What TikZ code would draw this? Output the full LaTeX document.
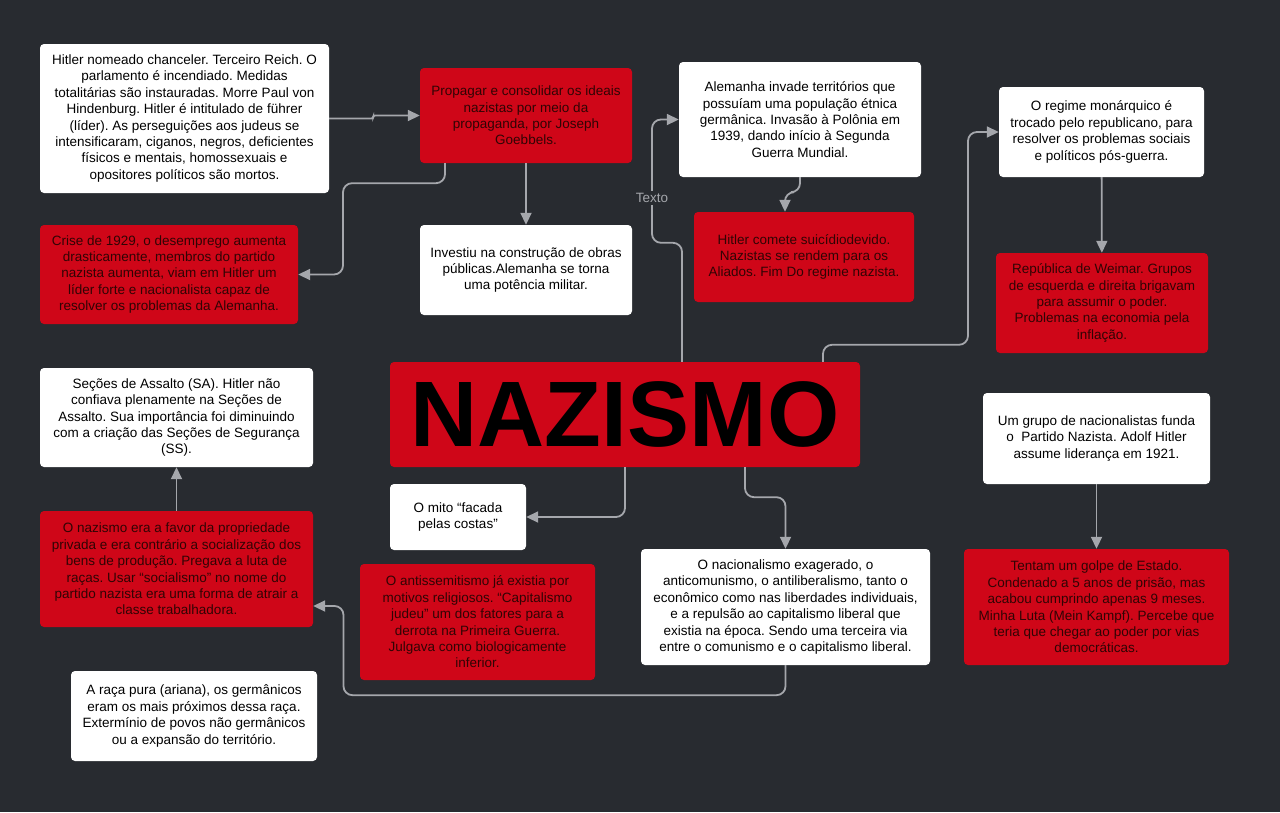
\documentclass[tikz,border=0pt]{standalone}
\usepackage{fontspec}
\setmainfont{Liberation Sans}
\usepackage{xcolor}
\usepackage{tikz}
\usetikzlibrary{arrows.meta,calc}
\definecolor{fundo}{RGB}{40,43,48}
\definecolor{vermelho}{RGB}{207,6,24}
\definecolor{tinta}{RGB}{48,4,4}
\definecolor{linha}{RGB}{165,167,172}
\frenchspacing

\tikzset{
  caixa/.style={rectangle,rounded corners=4pt,inner sep=0pt,align=center,
    font=\fontsize{13.5}{16.4}\selectfont},
  branca/.style={caixa,fill=white,text=black},
  vermelha/.style={caixa,fill=vermelho,text=tinta},
  seta/.style={draw=linha,line width=1.8pt,rounded corners=9pt,
    -{Triangle[length=12pt,width=11pt]}},
  rotulo/.style={fill=fundo,text=linha,inner sep=2pt,font=\fontsize{13.5}{15}\selectfont}
}

\begin{document}
\begin{tikzpicture}[x=1pt,y=-1pt]
    % une unite = un pixel de l'image : x vers la droite, y vers le bas
    \fill[fundo](0,0) rectangle (1280,812);
    \useasboundingbox (0,0) rectangle (1280,812);
    \node[branca,minimum width=289pt,minimum height=149pt] (hit) at (184.5,118.5)
      {Hitler nomeado chanceler. Terceiro Reich. O\\parlamento é incendiado. Medidas\\
       totalitárias são instauradas. Morre Paul von\\Hindenburg. Hitler é intitulado de führer\\
       (líder). As perseguições aos judeus se\\intensificaram, ciganos, negros, deficientes\\
       físicos e mentais, homossexuais e\\opositores políticos são mortos.};
    \node[vermelha,minimum width=212pt,minimum height=95pt] (prop) at (526,115.5)
      {Propagar e consolidar os ideais\\nazistas por meio da\\propaganda, por Joseph\\Goebbels.};
    \node[branca,minimum width=242pt,minimum height=115pt] (ale) at (800,119.5)
      {Alemanha invade territórios que\\possuíam uma população étnica\\germânica. Invasão à Polônia em\\
       1939, dando início à Segunda\\Guerra Mundial.};
    \node[branca,minimum width=205pt,minimum height=90pt] (reg) at (1101.5,132)
      {O regime monárquico é\\trocado pelo republicano, para\\resolver os problemas sociais\\e políticos pós-guerra.};
    \node[vermelha,minimum width=258pt,minimum height=99pt] (cri) at (169,274.5)
      {Crise de 1929, o desemprego aumenta\\drasticamente, membros do partido\\nazista aumenta, viam em Hitler um\\
       líder forte e nacionalista capaz de\\resolver os problemas da Alemanha.};
    \node[branca,minimum width=212pt,minimum height=90pt] (inv) at (526,270)
      {Investiu na construção de obras\\públicas.Alemanha se torna\\uma potência militar.};
    \node[vermelha,minimum width=220pt,minimum height=90pt] (hcs) at (804,257)
      {Hitler comete suicídiodevido.\\Nazistas se rendem para os\\Aliados. Fim Do regime nazista.};
    \node[vermelha,minimum width=212pt,minimum height=100pt] (wei) at (1102,303)
      {República de Weimar. Grupos\\de esquerda e direita brigavam\\para assumir o poder.\\
       Problemas na economia pela\\inflação.};
    \node[vermelha,minimum width=470pt,minimum height=105pt,
          font=\fontsize{93}{93}\selectfont\bfseries,text=black] (naz) at (625,414.5) {NAZISMO};
    \node[branca,minimum width=273pt,minimum height=99pt] (sec) at (176.5,417.5)
      {Seções de Assalto (SA). Hitler não\\confiava plenamente na Seções de\\Assalto. Sua importância foi diminuindo\\
       com a criação das Seções de Segurança\\(SS).};
    \node[branca,minimum width=227pt,minimum height=91pt] (grp) at (1096.5,438.5)
      {Um grupo de nacionalistas funda\\o\ \ Partido Nazista. Adolf Hitler\\assume liderança em 1921.};
    \node[vermelha,minimum width=273pt,minimum height=116pt] (nzf) at (176.5,569)
      {O nazismo era a favor da propriedade\\privada e era contrário a socialização dos\\
       bens de produção. Pregava a luta de\\raças. Usar “socialismo” no nome do\\
       partido nazista era uma forma de atrair a\\classe trabalhadora.};
    \node[branca,minimum width=136pt,minimum height=66pt] (mito) at (458,517)
      {O mito “facada\\pelas costas”};
    \node[vermelha,minimum width=235pt,minimum height=116pt] (ant) at (477.5,622)
      {O antissemitismo já existia por\\motivos religiosos. “Capitalismo\\judeu” um dos fatores para a\\
       derrota na Primeira Guerra.\\Julgava como biologicamente\\inferior.};
    \node[branca,minimum width=289pt,minimum height=116pt] (nac) at (785.5,607)
      {O nacionalismo exagerado, o\\anticomunismo, o antiliberalismo, tanto o\\
       econômico como nas liberdades individuais,\\e a repulsão ao capitalismo liberal que\\
       existia na época. Sendo uma terceira via\\entre o comunismo e o capitalismo liberal.};
    \node[vermelha,minimum width=265pt,minimum height=116pt] (ten) at (1096.5,607)
      {Tentam um golpe de Estado.\\Condenado a 5 anos de prisão, mas\\acabou cumprindo apenas 9 meses.\\
       Minha Luta (Mein Kampf). Percebe que\\teria que chegar ao poder por vias\\democráticas.};
    \node[branca,minimum width=246pt,minimum height=90pt] (raca) at (194,716)
      {A raça pura (ariana), os germânicos\\eram os mais próximos dessa raça.\\
       Extermínio de povos não germânicos\\ou a expansão do território.};

    \draw[seta,rounded corners=2pt](hit.east)--++(44,0)|-(prop.west);
    \draw[seta]([xshift=-81pt]prop.south)--++(0,20)--++(-102,0)|-(cri.east);
    \draw[seta](prop)--(inv);
    \draw[seta]([xshift=57pt]naz.north)--++(0,-119)--++(-30,0)|-(ale.west);
    \node[rotulo] (txt) at (652,198) {Texto};
    \draw[seta](ale.south)--++(0,15)-|([xshift=-19pt]hcs.north);
    \draw[seta]([xshift=198pt]naz.north)--++(0,-17)--++(145,0)|-(reg.west);
    \draw[seta](reg)--(wei);
    \draw[seta](grp)--(ten);
    \draw[seta](naz.south)|-(mito.east);
    \draw[seta]([xshift=120pt]naz.south)--++(0,30)-|(nac.north);
    \draw[seta](nac.south)--++(0,30)--++(-442,0)|-([yshift=-37pt]nzf.east);
    \draw[seta](nzf)--(sec);
  \end{tikzpicture}
\end{document}
